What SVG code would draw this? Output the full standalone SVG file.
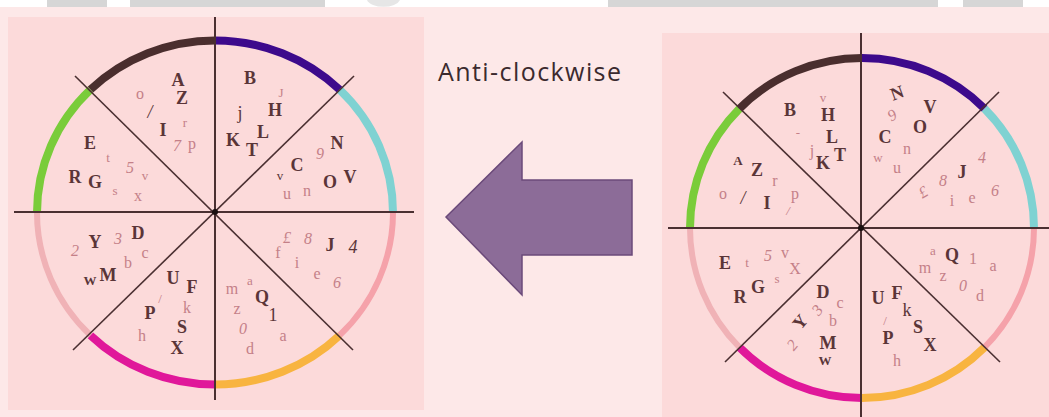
<svg xmlns="http://www.w3.org/2000/svg" width="1049" height="417" viewBox="0 0 1049 417">
  <defs>
    <style>
      .axis { stroke: #4a2f31; stroke-width: 2; fill: none; }
      .diag { stroke: #4a2f31; stroke-width: 1.6; fill: none; }
      .arc { fill: none; stroke-width: 8; }
      .arc-thin { fill: none; stroke-width: 6; }
      .d { font-family: "Liberation Serif", serif; font-weight: bold; font-size: 18px; fill: #5a3538; text-anchor: middle; dominant-baseline: central; }
      .p { font-family: "Liberation Serif", serif; font-size: 16px; fill: #c48088; text-anchor: middle; dominant-baseline: central; }
      .s { font-size: 13px; }
      .i { font-style: italic; }
      .n { font-weight: normal; }
      .label { font-family: "Open Sans", "Liberation Sans", sans-serif; font-size: 25px; fill: #3b2a2e; }
    </style>
  </defs>

  <!-- page background and top strip -->
  <rect x="0" y="0" width="1049" height="417" fill="#fde8e8"/>
  <rect x="0" y="0" width="1049" height="7" fill="#ffffff"/>
  <g fill="#d6d6d6">
    <rect x="47" y="0" width="60" height="7"/>
    <rect x="130" y="0" width="195" height="7"/>
    <rect x="608" y="0" width="330" height="7"/>
    <rect x="963" y="0" width="60" height="7"/>
  </g>
  <path d="M367,0 A17,9 0 0 0 400,0 Z" fill="#e6e6e6"/>

  <!-- panels -->
  <rect x="8" y="17" width="416" height="393" fill="#fcdada"/>
  <rect x="662" y="33" width="387" height="384" fill="#fcdada"/>

  <!-- left wheel -->
  <g id="wheel-left">
    <path class="arc" stroke="#4a2e2e" d="M90.4,89.7 A178,172 0 0 1 215,40.5"/>
    <path class="arc" stroke="#3d0a8c" d="M215,40.5 A178,172 0 0 1 339.6,89.7"/>
    <path class="arc" stroke="#7fd2d2" d="M339.6,89.7 A178,172 0 0 1 393,212.5"/>
    <path class="arc-thin" stroke="#f5a2aa" d="M393,212.5 A178,172 0 0 1 339.6,335.3"/>
    <path class="arc" stroke="#f8b440" d="M339.6,335.3 A178,172 0 0 1 215,384.5"/>
    <path class="arc" stroke="#e0189a" d="M215,384.5 A178,172 0 0 1 90.4,335.3"/>
    <path class="arc-thin" stroke="#f0b2b6" d="M90.4,335.3 A178,172 0 0 1 37,212.5"/>
    <path class="arc" stroke="#7acc3a" d="M37,212.5 A178,172 0 0 1 90.4,89.7"/>

    <line class="axis" x1="215" y1="17" x2="215" y2="400"/>
    <line class="axis" x1="14" y1="212" x2="414" y2="212"/>
    <line class="diag" x1="75" y1="76" x2="353" y2="350"/>
    <line class="diag" x1="354" y1="76" x2="73" y2="350"/>
    <circle cx="215" cy="212" r="3" fill="#1a1010"/>

    <!-- upper-left sector -->
    <text class="d" x="178" y="80">A</text>
    <text class="d" x="182" y="98">Z</text>
    <text class="p" x="140" y="93">o</text>
    <text class="d n i" x="150" y="112">/</text>
    <text class="d" x="163" y="130">I</text>
    <text class="p s" x="185" y="122">r</text>
    <text class="p i" x="177" y="145">7</text>
    <text class="p" x="192" y="143">p</text>
    <!-- left-upper sector -->
    <text class="d" x="90" y="143">E</text>
    <text class="p s" x="108" y="157">t</text>
    <text class="p i" x="130" y="167">5</text>
    <text class="p s" x="145" y="175">v</text>
    <text class="d" x="75" y="177">R</text>
    <text class="d" x="95" y="182">G</text>
    <text class="p s" x="115" y="190">s</text>
    <text class="p" x="138" y="195">x</text>
    <!-- upper-right sector -->
    <text class="d" x="250" y="78">B</text>
    <text class="p s" x="281" y="92">J</text>
    <text class="d" x="275" y="110">H</text>
    <text class="d n" x="240" y="113">j</text>
    <text class="d" x="233" y="140">K</text>
    <text class="d" x="252" y="150">T</text>
    <text class="d" x="263" y="132">L</text>
    <!-- right-upper sector -->
    <text class="d" x="337" y="143">N</text>
    <text class="p i" x="320" y="153">9</text>
    <text class="d" x="297" y="165">C</text>
    <text class="d n s" x="280" y="175">v</text>
    <text class="p" x="287" y="193">u</text>
    <text class="p" x="307" y="190">n</text>
    <text class="d" x="330" y="182">O</text>
    <text class="d" x="350" y="177">V</text>
    <!-- right-lower sector -->
    <text class="p i" x="287" y="237">£</text>
    <text class="p i" x="308" y="238">8</text>
    <text class="d" x="330" y="245">J</text>
    <text class="d n i" x="353" y="247">4</text>
    <text class="p" x="278" y="252">f</text>
    <text class="p" x="297" y="262">i</text>
    <text class="p" x="317" y="273">e</text>
    <text class="p i" x="337" y="282">6</text>
    <!-- lower-right sector -->
    <text class="p" x="232" y="288">m</text>
    <text class="p s" x="250" y="280">a</text>
    <text class="d" x="262" y="297">Q</text>
    <text class="p" x="237" y="308">z</text>
    <text class="d n" x="273" y="315">1</text>
    <text class="p i" x="243" y="328">0</text>
    <text class="p" x="283" y="335">a</text>
    <text class="p" x="250" y="348">d</text>
    <!-- lower-left sector -->
    <text class="d" x="173" y="278">U</text>
    <text class="d" x="192" y="287">F</text>
    <text class="p s" x="160" y="298">/</text>
    <text class="p" x="187" y="307">k</text>
    <text class="d" x="150" y="313">P</text>
    <text class="d" x="182" y="327">S</text>
    <text class="p" x="142" y="335">h</text>
    <text class="d" x="177" y="348">X</text>
    <!-- left-lower sector -->
    <text class="p i" x="75" y="250">2</text>
    <text class="d" x="95" y="242">Y</text>
    <text class="p i" x="118" y="238">3</text>
    <text class="d" x="138" y="233">D</text>
    <text class="p" x="128" y="262">b</text>
    <text class="p" x="145" y="252">c</text>
    <text class="d s" x="90" y="280">W</text>
    <text class="d" x="108" y="275">M</text>
  </g>

  <!-- direction label and arrow -->
  <g id="label">
    <text class="label" x="438" y="81" textLength="183" lengthAdjust="spacing">Anti-clockwise</text>
  </g>
  <g id="arrow">
    <polygon points="446,217 522,142 522,180 632,180 632,255 522,255 522,295" fill="#8c6c98" stroke="#6b4a7a" stroke-width="1.5" stroke-linejoin="miter"/>
  </g>

  <!-- right wheel -->
  <g id="wheel-right">
    <path class="arc" stroke="#4a2e2e" d="M739.5,108.6 A172,170 0 0 1 862,58"/>
    <path class="arc" stroke="#3d0a8c" d="M862,58 A172,170 0 0 1 984.5,108.6"/>
    <path class="arc" stroke="#7fd2d2" d="M984.5,108.6 A172,170 0 0 1 1034,228"/>
    <path class="arc-thin" stroke="#f5a2aa" d="M1034,228 A172,170 0 0 1 984.5,347.4"/>
    <path class="arc" stroke="#f8b440" d="M984.5,347.4 A172,170 0 0 1 862,398"/>
    <path class="arc" stroke="#e0189a" d="M862,398 A172,170 0 0 1 739.5,347.4"/>
    <path class="arc-thin" stroke="#f0b2b6" d="M739.5,347.4 A172,170 0 0 1 690,228"/>
    <path class="arc" stroke="#7acc3a" d="M690,228 A172,170 0 0 1 739.5,108.6"/>

    <line class="axis" x1="861" y1="33" x2="861" y2="417"/>
    <line class="axis" x1="668" y1="228" x2="1049" y2="228"/>
    <line class="diag" x1="723" y1="92" x2="1000" y2="362"/>
    <line class="diag" x1="999" y1="92" x2="725" y2="362"/>
    <circle cx="861" cy="228" r="3" fill="#1a1010"/>

    <!-- upper-left sector -->
    <text class="d" x="790" y="110">B</text>
    <text class="p s" x="823" y="97">v</text>
    <text class="d" x="828" y="115">H</text>
    <text class="d" x="832" y="137">L</text>
    <text class="d" x="840" y="155">T</text>
    <text class="p s" x="798" y="132">-</text>
    <text class="p" x="812" y="150">j</text>
    <text class="d" x="823" y="163">K</text>
    <!-- left-upper sector -->
    <text class="d s" x="738" y="160">A</text>
    <text class="d" x="757" y="170">Z</text>
    <text class="p" x="775" y="180">r</text>
    <text class="p" x="723" y="193">o</text>
    <text class="d n i" x="743" y="198">/</text>
    <text class="d" x="767" y="203">I</text>
    <text class="p" x="795" y="193">p</text>
    <text class="p s i" x="788" y="210">/</text>
    <!-- upper-right sector -->
    <text class="d" x="897" y="93" transform="rotate(-20 897 93)">N</text>
    <text class="d" x="930" y="107">V</text>
    <text class="p i" x="892" y="115" transform="rotate(-30 892 115)">9</text>
    <text class="d" x="920" y="127">O</text>
    <text class="d" x="885" y="137">C</text>
    <text class="p" x="907" y="148">n</text>
    <text class="p s" x="878" y="157">w</text>
    <text class="p" x="897" y="167">u</text>
    <!-- right-upper sector -->
    <text class="p i" x="982" y="157">4</text>
    <text class="d" x="962" y="172">J</text>
    <text class="p i" x="943" y="180">8</text>
    <text class="p i" x="923" y="192" transform="rotate(-30 923 192)">£</text>
    <text class="p" x="952" y="200">i</text>
    <text class="p" x="972" y="197">e</text>
    <text class="p i" x="995" y="190">6</text>
    <!-- right-lower sector -->
    <text class="p s" x="933" y="250">a</text>
    <text class="d" x="952" y="255">Q</text>
    <text class="p" x="973" y="258">1</text>
    <text class="p" x="993" y="265">a</text>
    <text class="p" x="925" y="267">m</text>
    <text class="p" x="943" y="275">z</text>
    <text class="p i" x="963" y="285">0</text>
    <text class="p" x="980" y="295">d</text>
    <!-- lower-right sector -->
    <text class="d" x="878" y="298">U</text>
    <text class="d" x="897" y="293">F</text>
    <text class="d n" x="907" y="310">k</text>
    <text class="p s" x="885" y="320">/</text>
    <text class="d" x="918" y="327">S</text>
    <text class="d" x="888" y="338">P</text>
    <text class="d" x="930" y="345">X</text>
    <text class="p" x="897" y="360">h</text>
    <!-- lower-left sector -->
    <text class="d" x="823" y="292">D</text>
    <text class="p" x="840" y="302">c</text>
    <text class="p i" x="817" y="310" transform="rotate(-50 817 310)">3</text>
    <text class="p" x="833" y="320">b</text>
    <text class="d" x="800" y="322" transform="rotate(-50 800 322)">Y</text>
    <text class="d" x="828" y="343">M</text>
    <text class="p i" x="792" y="345" transform="rotate(-50 792 345)">2</text>
    <text class="d s" x="825" y="360">W</text>
    <!-- left-lower sector -->
    <text class="d" x="725" y="263">E</text>
    <text class="p s" x="747" y="262">t</text>
    <text class="p i" x="768" y="255">5</text>
    <text class="p" x="785" y="252">v</text>
    <text class="d" x="740" y="297">R</text>
    <text class="d" x="758" y="287">G</text>
    <text class="p s" x="777" y="278">s</text>
    <text class="p" x="795" y="268">X</text>
  </g>
</svg>
